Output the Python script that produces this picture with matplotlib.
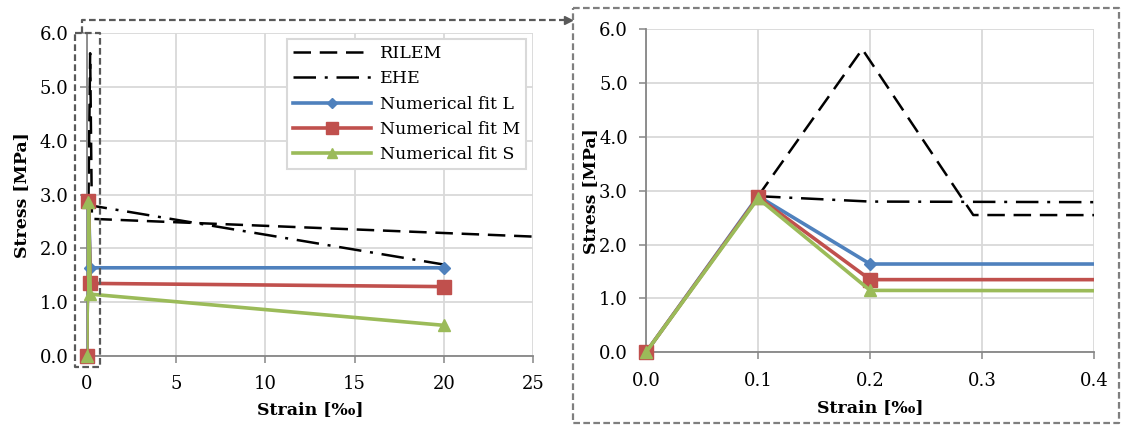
import numpy as np
import matplotlib
matplotlib.use("Agg")
from matplotlib import pyplot as plt

# stress-strain laws, strain in permille, stress in MPa
rilem_x = [0.1, 0.193, 0.292, 25.0]
rilem_y = [2.90, 5.63, 2.55, 2.22]
ehe_x = [0.1, 0.2, 20.0]
ehe_y = [2.90, 2.80, 1.70]
fit_x = [0.0, 0.1, 0.2, 20.0]
fit_l = [0.0, 2.90, 1.64, 1.64]
fit_m = [0.0, 2.88, 1.35, 1.29]
fit_s = [0.0, 2.86, 1.15, 0.57]

yticks = [0, 1, 2, 3, 4, 5, 6]
xticks_full = [0, 5, 10, 15, 20, 25]
xticks_zoom = [0.0, 0.1, 0.2, 0.3, 0.4]

BLUE = '#4F81BD'
RED = '#C0504D'
GREEN = '#9BBB59'
GRID = '#D9D9D9'
SPINE = '#868686'
FONT = ['DejaVu Serif', 'DejaVu Sans']
FS = 13
LFS = 12.5

plt.rcParams['font.family'] = FONT
plt.rcParams['font.size'] = FS

W, H = 1122, 426
fig = plt.figure(figsize=(W / 100, H / 100), dpi=100)


def px_axes(x0, y0, x1, y1):
    return fig.add_axes([x0 / W, 1 - y1 / H, (x1 - x0) / W, (y1 - y0) / H])


def style(ax, xlim, xticks, xfmt):
    ax.set_xlim(*xlim)
    ax.set_ylim(0, 6)
    ax.set_xticks(xticks)
    ax.set_yticks(yticks)
    ax.set_xticklabels([xfmt % v for v in xticks])
    ax.set_yticklabels(['%.1f' % v for v in yticks])
    ax.grid(True, color=GRID, lw=1.3)
    ax.set_axisbelow(True)
    for s in ['top', 'right']:
        ax.spines[s].set_visible(False)
    for s in ['left', 'bottom']:
        ax.spines[s].set_color(SPINE)
        ax.spines[s].set_linewidth(1.3)
    ax.tick_params(axis='both', length=5, width=1.1, color=SPINE, labelsize=FS)
    ax.tick_params(axis='y', pad=8)
    ax.tick_params(axis='x', pad=9)


def draw(ax, xmax):
    ax.plot(rilem_x, rilem_y, color='black', lw=1.8, dashes=(7, 3.5),
            label='RILEM', zorder=2)
    ax.plot(ehe_x, ehe_y, color='black', lw=1.8, dashes=(9, 3.5, 1.2, 3.5),
            label='EHE', zorder=2)
    fx = np.array(fit_x)
    keep = fx <= xmax
    series = [(fit_l, BLUE, 'D', 6, 'Numerical fit L'),
              (fit_m, RED, 's', 10, 'Numerical fit M'),
              (fit_s, GREEN, '^', 9, 'Numerical fit S')]
    for i, (y, c, m, ms, lab) in enumerate(series):
        y = np.array(y)
        ax.plot(fx, y, color=c, lw=2.6, zorder=3 + i)
        ax.plot(fx[keep], y[keep], ls='none', marker=m, ms=ms, color=c,
                clip_on=False, zorder=3 + i)
        # legend proxy
        ax.plot([], [], color=c, lw=2.6, marker=m, ms=ms * 0.8, label=lab)


ax1 = px_axes(86.7, 33.3, 533.3, 356)
style(ax1, (0, 25), xticks_full, '%g')
draw(ax1, 25)
ax1.set_ylabel('Stress [MPa]', fontweight='bold', fontsize=LFS, va='center')
ax1.yaxis.set_label_coords(-0.145, 0.5)
ax1.set_xlabel('Strain [‰]', fontweight='bold', fontsize=LFS, va='center')
ax1.xaxis.set_label_coords(0.5, -0.167)

handles, labels = ax1.get_legend_handles_labels()
leg = ax1.legend(handles, labels, loc='upper left',
                 bbox_to_anchor=(287 / W, 1 - 39 / H),
                 bbox_transform=fig.transFigure, fancybox=False,
                 edgecolor=GRID, framealpha=1, fontsize=LFS, numpoints=1,
                 handlelength=4.5, handletextpad=0.5, labelspacing=0.48,
                 borderpad=0.35, borderaxespad=0)
leg.get_frame().set_linewidth(1.5)

ax2 = px_axes(646, 29.3, 1094.3, 352.3)
style(ax2, (0, 0.4), xticks_zoom, '%.1f')
draw(ax2, 0.4)
ax2.set_ylabel('Stress [MPa]', fontweight='bold', fontsize=LFS, va='center')
ax2.yaxis.set_label_coords(-0.124, 0.5)
ax2.set_xlabel('Strain [‰]', fontweight='bold', fontsize=LFS, va='center')
ax2.xaxis.set_label_coords(0.5, -0.172)

# zoom frame and pointer, in pixel coordinates
ov = fig.add_axes([0, 0, 1, 1], zorder=10)
ov.set_xlim(0, W)
ov.set_ylim(H, 0)
ov.axis('off')
ov.plot([75, 100, 100, 75, 75], [33, 33, 367, 367, 33], color='#595959',
        lw=1.6, dashes=(3, 1.5))
ov.plot([82, 82, 566], [33, 20, 20], color='#595959', lw=1.6, dashes=(3, 1.5))
ov.plot([568], [20], marker='>', ms=6, color='#595959', ls='none')
ov.plot([572.7, 1119, 1119, 572.7, 572.7], [8, 8, 423.3, 423.3, 8],
        color='#7F7F7F', lw=1.6, dashes=(3, 1.5))

fig.savefig('out.png', dpi=100)
